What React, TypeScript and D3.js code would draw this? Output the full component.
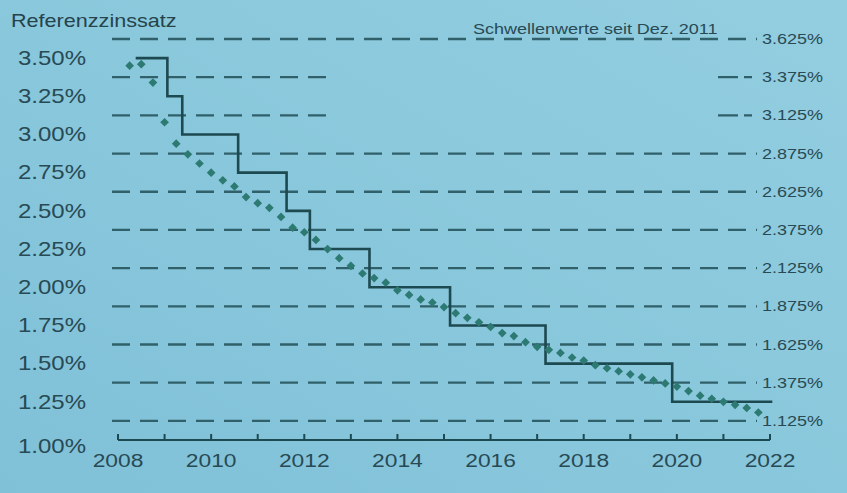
import React from "react";
import * as d3 from "d3";

const W = 847;
const H = 493;

// Schwellenwerte (dashed threshold lines)
const thresholds = [3.625, 3.375, 3.125, 2.875, 2.625, 2.375, 2.125, 1.875, 1.625, 1.375, 1.125];
const partialThresholds = [3.375, 3.125];
const thresholdLabels = ["3.625%", "3.375%", "3.125%", "2.875%", "2.625%", "2.375%", "2.125%", "1.875%", "1.625%", "1.375%", "1.125%"];

// axis ticks
const yTickValues = [3.5, 3.25, 3.0, 2.75, 2.5, 2.25, 2.0, 1.75, 1.5, 1.25, 1.0];
const yTickLabels = ["3.50%", "3.25%", "3.00%", "2.75%", "2.50%", "2.25%", "2.00%", "1.75%", "1.50%", "1.25%", "1.00%"];
const xTickYears = [2008, 2009, 2010, 2011, 2012, 2013, 2014, 2015, 2016, 2017, 2018, 2019, 2020, 2021, 2022];
const xLabelYears = [2008, 2010, 2012, 2014, 2016, 2018, 2020, 2022];

// Referenzzinssatz (step line)
const stepYears = [2008.38, 2009.06, 2009.38, 2010.58, 2011.62, 2012.12, 2013.4, 2015.13, 2017.18, 2019.9, 2022.05];
const stepRates = [3.5, 3.25, 3.0, 2.75, 2.5, 2.25, 2.0, 1.75, 1.5, 1.25, 1.25];

// Durchschnittszinssatz (quarterly diamonds)
const dotYears = [
  2008.25, 2008.5, 2008.75, 2009.0, 2009.25, 2009.5, 2009.75, 2010.0, 2010.25, 2010.5, 2010.75,
  2011.0, 2011.25, 2011.5, 2011.75, 2012.0, 2012.25, 2012.5, 2012.75, 2013.0, 2013.25, 2013.5,
  2013.75, 2014.0, 2014.25, 2014.5, 2014.75, 2015.0, 2015.25, 2015.5, 2015.75, 2016.0, 2016.25,
  2016.5, 2016.75, 2017.0, 2017.25, 2017.5, 2017.75, 2018.0, 2018.25, 2018.5, 2018.75, 2019.0,
  2019.25, 2019.5, 2019.75, 2020.0, 2020.25, 2020.5, 2020.75, 2021.0, 2021.25, 2021.5, 2021.75,
];
const dotRates = [
  3.45, 3.46, 3.34, 3.08, 2.94, 2.87, 2.81, 2.75, 2.70, 2.66, 2.59,
  2.55, 2.52, 2.46, 2.39, 2.36, 2.31, 2.25, 2.19, 2.14, 2.09, 2.06,
  2.03, 1.98, 1.95, 1.92, 1.90, 1.87, 1.83, 1.80, 1.77, 1.74, 1.70,
  1.68, 1.64, 1.61, 1.59, 1.57, 1.54, 1.52, 1.49, 1.47, 1.45, 1.43,
  1.41, 1.39, 1.37, 1.35, 1.32, 1.29, 1.27, 1.25, 1.23, 1.21, 1.18,
];

const x = d3.scaleLinear().domain([2008, 2022]).range([118, 770]);
const y = d3.scaleLinear().domain([1.0, 3.625]).range([440, 39]);

const TEXT = "#284a54";
const LINE = "#1d4950";
const DASH = "#30606a";
const DOT = "#2c7a72";
const FONT = "'Liberation Sans', Arial, sans-serif";

function T(props: any) {
  const { x, y, anchor, size, fill, children, baseline } = props;
  return (
    <text
      transform={`translate(${x},${y}) scale(1.2,1)`}
      textAnchor={anchor || "start"}
      fontSize={size}
      fill={fill || TEXT}
      dominantBaseline={baseline || "alphabetic"}
      fontFamily={FONT}
    >
      {children}
    </text>
  );
}

export default function App() {
  const stepLine = d3
    .line<number>()
    .x((_, i) => x(stepYears[i]))
    .y((d) => y(d))
    .curve(d3.curveStepAfter);
  const diamond = d3.symbol().type(d3.symbolSquare).size(38)();
  const lineLeft = 112;
  const lineRight = 757;

  return (
    <svg width={W} height={H} style={{ position: "fixed", left: 0, top: 0 }}>
      <defs>
        <linearGradient id="bg" x1="0" y1="1" x2="1" y2="0">
          <stop offset="0" stopColor="#80c1d8" />
          <stop offset="1" stopColor="#93cee0" />
        </linearGradient>
      </defs>
      <rect x={0} y={0} width={W} height={H} fill="url(#bg)" />

      {/* threshold dashed lines */}
      {thresholds.map((t, i) => {
        const partial = partialThresholds.includes(t);
        return (
          <g key={t}>
            {partial ? (
              <>
                <line x1={lineLeft} x2={333} y1={y(t)} y2={y(t)} stroke={DASH} strokeWidth={2.3} strokeDasharray="18 10" />
                <line x1={718} x2={lineRight} y1={y(t)} y2={y(t)} stroke={DASH} strokeWidth={2.3} strokeDasharray="20 6 8 10" />
              </>
            ) : (
              <line x1={lineLeft} x2={lineRight} y1={y(t)} y2={y(t)} stroke={DASH} strokeWidth={2.3} strokeDasharray="18 10" />
            )}
            <T x={762} y={y(t)} size={15} baseline="central">
              {thresholdLabels[i]}
            </T>
          </g>
        );
      })}

      <T x={473} y={y(3.625) - 5} size={15}>
        Schwellenwerte seit Dez. 2011
      </T>

      {/* title */}
      <T x={11} y={27} size={18} fill="#25434b">
        Referenzzinssatz
      </T>

      {/* y labels */}
      {yTickValues.map((v, i) => (
        <T key={v} x={86} y={y(v) + (v === 1.0 ? 6 : 0)} size={20} anchor="end" baseline="central">
          {yTickLabels[i]}
        </T>
      ))}

      {/* x axis */}
      <line x1={x(2008)} x2={x(2022)} y1={y(1.0)} y2={y(1.0)} stroke={LINE} strokeWidth={2} />
      {xTickYears.map((yr) => (
        <line key={yr} x1={x(yr)} x2={x(yr)} y1={y(1.0)} y2={y(1.0) - 6} stroke={LINE} strokeWidth={2} />
      ))}
      {xLabelYears.map((yr) => (
        <T key={yr} x={x(yr)} y={y(1.0) + 27} size={19} anchor="middle">
          {String(yr)}
        </T>
      ))}

      {/* step line */}
      <path d={stepLine(stepRates) || ""} fill="none" stroke={LINE} strokeWidth={2.6} />

      {/* diamonds */}
      {dotRates.map((r, i) => (
        <path
          key={i}
          d={diamond || ""}
          transform={`translate(${x(dotYears[i])},${y(r)}) rotate(45)`}
          fill={DOT}
        />
      ))}
    </svg>
  );
}
